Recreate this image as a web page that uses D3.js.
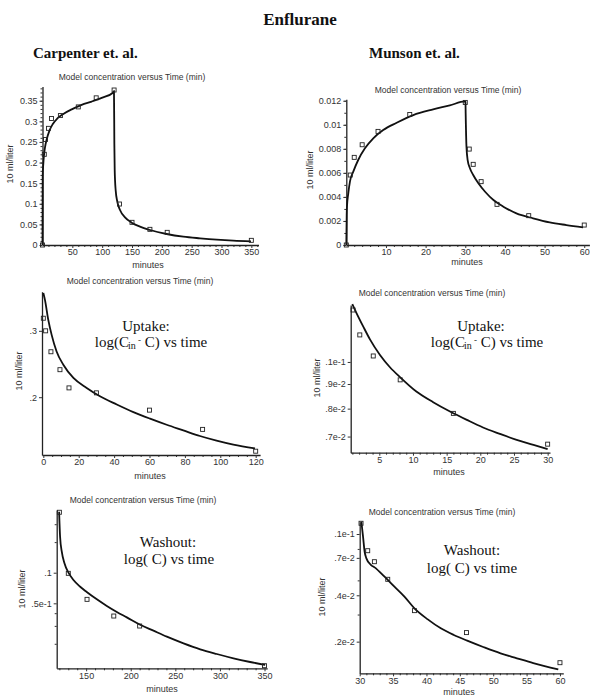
<!DOCTYPE html>
<html><head><meta charset="utf-8">
<script src="https://cdn.jsdelivr.net/npm/d3@7"></script>
<style>
body{margin:0;background:#fff;}
svg{display:block;}
.tick text{font-family:"Liberation Sans",Arial,sans-serif;font-size:9px;fill:#333;}
.lbl{font-family:"Liberation Sans",Arial,sans-serif;font-size:9px;fill:#333;}
.ttl{font-family:"Liberation Sans",Arial,sans-serif;font-size:8.5px;fill:#333;}
.ann{font-family:"Liberation Serif","Times New Roman",serif;font-size:15px;fill:#111;}
</style></head>
<body>
<svg id="chart" width="600" height="698"></svg>
<script>
// ---------- DATA ----------
const mainTitle = "Enflurane";
const groupTitles = ["Carpenter et. al.", "Munson et. al."];
const plotTitle = "Model concentration versus Time (min)";
const yAxisTitle = "10 ml/liter";
const xAxisTitle = "minutes";

// Panel 1: Carpenter, concentration vs time
const p1PointT = [0, 3, 5, 10, 15, 30, 60, 90, 120, 129, 150, 180, 209, 350];
const p1PointC = [0, 0.220, 0.256, 0.283, 0.307, 0.314, 0.335, 0.357, 0.376, 0.0994, 0.055, 0.038, 0.0307, 0.0113];
const p1CurveT = [0, 0.3, 1.4, 2.5, 4.2, 7, 11.5, 17, 24.9, 34.9, 48.9, 65.6, 82.4, 99.2, 118.7, 119.8, 120.4, 121, 122.6, 125.4, 129.9, 138.3, 149.4, 163.4, 180.2, 208.1, 236, 264, 291.9, 319.8, 349.4];
const p1CurveC = [0, 0.1657, 0.198, 0.218, 0.237, 0.256, 0.277, 0.293, 0.307, 0.318, 0.329, 0.340, 0.348, 0.357, 0.370, 0.373, 0.2466, 0.182, 0.133, 0.105, 0.0849, 0.0671, 0.0542, 0.0445, 0.0364, 0.0267, 0.0202, 0.0162, 0.0129, 0.0105, 0.0089];
const p1XTicks = [50, 100, 150, 200, 250, 300, 350];
const p1XLabels = ["50", "100", "150", "200", "250", "300", "350"];
const p1YTicks = [0, 0.05, 0.1, 0.15, 0.2, 0.25, 0.3, 0.35];
const p1YLabels = ["0", "0.05", "0.1", "0.15", "0.2", "0.25", "0.3", "0.35"];

// Panel 2: Munson, concentration vs time
const p2PointT = [0, 1, 2, 4, 8, 16, 30, 31, 32, 34, 38, 46, 60];
const p2PointC = [0, 0.00582, 0.00729, 0.00834, 0.00945, 0.01086, 0.01186, 0.00798, 0.00671, 0.00527, 0.00338, 0.00244, 0.00166];
const p2CurveT = [0, 0.1, 0.17, 0.5, 0.92, 1.76, 3.0, 4.7, 6.8, 9.3, 12.7, 16.9, 21.9, 26.1, 29.9, 30.05, 30.1, 30.3, 30.6, 31.2, 32, 33.3, 35, 37.1, 39.6, 42.9, 47.1, 51.3, 55.5, 59.7];
const p2CurveC = [0, 0.0025, 0.0032, 0.0043, 0.00527, 0.0061, 0.00707, 0.00804, 0.00887, 0.00956, 0.01017, 0.01081, 0.01128, 0.01161, 0.01194, 0.0119, 0.01095, 0.00818, 0.00707, 0.00637, 0.00582, 0.00513, 0.00443, 0.00374, 0.00319, 0.00263, 0.00222, 0.00188, 0.00166, 0.00147];
const p2XTicks = [10, 20, 30, 40, 50, 60];
const p2XLabels = ["10", "20", "30", "40", "50", "60"];
const p2YTicks = [0, 0.002, 0.004, 0.006, 0.008, 0.01, 0.012];
const p2YLabels = ["0", "0.002", "0.004", "0.006", "0.008", "0.01", "0.012"];

// Panel 3: Carpenter uptake, log(Cin - C)
const p3PointT = [0, 1.3, 4.3, 9.4, 14.5, 30, 60, 90, 120];
const p3PointC = [0.324, 0.300, 0.264, 0.2366, 0.2117, 0.2054, 0.1848, 0.1643, 0.1438];
const p3CurveT = [0, 0.94, 2.8, 4.7, 7.5, 11.3, 17, 24.5, 32, 41.5, 50.9, 60.3, 69.7, 79.1, 88.5, 97.9, 107.4, 119.6];
const p3CurveC = [0.378, 0.362, 0.3208, 0.2927, 0.2645, 0.2439, 0.225, 0.2117, 0.2012, 0.1913, 0.1826, 0.1754, 0.169, 0.1633, 0.1578, 0.1534, 0.1497, 0.1462];
const p3XTicks = [0, 20, 40, 60, 80, 100, 120];
const p3XLabels = ["0", "20", "40", "60", "80", "100", "120"];
const p3YTicks = [0.3, 0.2];
const p3YLabels = [".3", ".2"];

// Panel 4: Munson uptake, log(Cin - C)
const p4PointT = [1.1, 2.1, 4.1, 8.1, 16, 30];
const p4PointC = [0.01282, 0.01138, 0.01029, 0.00918, 0.00782, 0.00675];
const p4CurveT = [0.99, 1.63, 2.62, 3.61, 5.1, 6.58, 8.07, 10.5, 13, 15.5, 18, 20.4, 22.9, 25.4, 27.9, 30];
const p4CurveC = [0.01319, 0.01262, 0.01184, 0.01114, 0.01034, 0.00975, 0.0093, 0.00868, 0.00825, 0.00789, 0.00758, 0.00731, 0.00709, 0.00689, 0.00673, 0.00659];
const p4XTicks = [5, 10, 15, 20, 25, 30];
const p4XLabels = ["5", "10", "15", "20", "25", "30"];
const p4YTicks = [0.01, 0.009, 0.008, 0.007];
const p4YLabels = [".1e-1", ".9e-2", ".8e-2", ".7e-2"];

// Panel 5: Carpenter washout, log(C)
const p5PointT = [120, 130, 151, 181, 210, 350];
const p5PointC = [0.393, 0.0986, 0.0547, 0.0375, 0.0299, 0.01218];
const p5CurveT = [119.7, 120.8, 122.7, 125.7, 130.2, 135.8, 143.3, 150.7, 162, 173.2, 184.4, 195.6, 210.6, 225.5, 240.5, 259.2, 277.9, 296.5, 315.2, 333.9, 350.7];
const p5CurveC = [0.398, 0.226, 0.161, 0.1237, 0.1, 0.0848, 0.0728, 0.0646, 0.0547, 0.0471, 0.0411, 0.0364, 0.0308, 0.0269, 0.0235, 0.0202, 0.01765, 0.01587, 0.0144, 0.01324, 0.01237];
const p5XTicks = [150, 200, 250, 300, 350];
const p5XLabels = ["150", "200", "250", "300", "350"];
const p5YTicks = [0.1, 0.05];
const p5YLabels = [".1", ".5e-1"];
const p5YMinor = [0.02, 0.03, 0.04, 0.2, 0.3];

// Panel 6: Munson washout, log(C)
const p6PointT = [30.2, 31.2, 32.2, 34.2, 38.2, 46, 60];
const p6PointC = [0.01174, 0.00779, 0.00661, 0.00508, 0.00318, 0.00229, 0.00146];
const p6CurveT = [30.25, 30.5, 30.74, 31, 31.7, 32.23, 33.72, 35.2, 36.7, 38.2, 40.2, 42.15, 44.1, 46.1, 48.6, 51.1, 53.55, 56, 59.75];
const p6CurveC = [0.01202, 0.00961, 0.00767, 0.00695, 0.00629, 0.00607, 0.00528, 0.00455, 0.00392, 0.00329, 0.00279, 0.00244, 0.00221, 0.00203, 0.00184, 0.00168, 0.00156, 0.00145, 0.00132];
const p6XTicks = [30, 35, 40, 45, 50, 55, 60];
const p6XLabels = ["30", "35", "40", "45", "50", "55", "60"];
const p6YTicks = [0.01, 0.007, 0.004, 0.002];
const p6YLabels = [".1e-1", ".7e-2", ".4e-2", ".2e-2"];
const p6YMinor = [0.008, 0.005, 0.003];

const annUptake = "Uptake:";
const annWashout = "Washout:";

// ---------- DRAW ----------
const svg = d3.select("#chart");

svg.append("text").attr("x", 300).attr("y", 25).attr("text-anchor", "middle")
  .attr("font-family", "'Liberation Serif','Times New Roman',serif").attr("font-weight", "bold")
  .attr("font-size", 17).attr("fill", "#111").text(mainTitle);
svg.append("text").attr("x", 33).attr("y", 58)
  .attr("font-family", "'Liberation Serif','Times New Roman',serif").attr("font-weight", "bold")
  .attr("font-size", 15).attr("fill", "#111").text(groupTitles[0]);
svg.append("text").attr("x", 369).attr("y", 58)
  .attr("font-family", "'Liberation Serif','Times New Roman',serif").attr("font-weight", "bold")
  .attr("font-size", 15).attr("fill", "#111").text(groupTitles[1]);

function range(a, b, s) { const r = []; for (let v = a; v <= b + 1e-9; v += s) r.push(+v.toFixed(6)); return r; }

function panel(c) {
  const g = svg.append("g");
  const x = d3.scaleLinear().domain(c.xd).range(c.xr);
  const y = (c.log ? d3.scaleLog() : d3.scaleLinear()).domain(c.yd).range(c.yr);
  const axisY = c.xAxisAt !== undefined ? y(c.xAxisAt) : c.yr[0];
  const axisX = c.yAxisAt !== undefined ? x(c.yAxisAt) : c.xr[0];

  if (c.xMinor) {
    g.append("g").attr("transform", `translate(0,${axisY})`)
      .call(d3.axisBottom(x).tickValues(c.xMinor.filter(v => !c.xTicks.includes(v))).tickFormat("").tickSize(2).tickSizeOuter(0))
      .call(a => a.select(".domain").remove())
      .call(a => a.selectAll("line").attr("stroke", "#333"));
  }
  if (c.yMinor) {
    g.append("g").attr("transform", `translate(${axisX},0)`)
      .call(d3.axisLeft(y).tickValues(c.yMinor).tickFormat("").tickSize(2).tickSizeOuter(0))
      .call(a => a.select(".domain").remove())
      .call(a => a.selectAll("line").attr("stroke", "#333"));
  }
  g.append("g").attr("transform", `translate(0,${axisY})`)
    .call(d3.axisBottom(x).tickValues(c.xTicks).tickFormat((d, i) => c.xLabels[i]).tickSize(3).tickPadding(1).tickSizeOuter(0))
    .call(a => a.select(".domain").attr("stroke", "#222").attr("stroke-width", 1.3))
    .call(a => a.selectAll("line").attr("stroke", "#333"));
  g.append("g").attr("transform", `translate(${axisX},0)`)
    .call(d3.axisLeft(y).tickValues(c.yTicks).tickFormat((d, i) => c.yLabels[i]).tickSize(3).tickPadding(2).tickSizeOuter(0))
    .call(a => a.select(".domain").attr("stroke", "#222").attr("stroke-width", 1.3))
    .call(a => a.selectAll("line").attr("stroke", "#333"));

  const curvePts = c.curveT.map((t, i) => [t, c.curveC[i]]);
  g.append("path").datum(curvePts)
    .attr("d", d3.line().x(d => x(d[0])).y(d => y(d[1])).curve(d3.curveMonotoneX))
    .attr("fill", "none").attr("stroke", "#111").attr("stroke-width", 1.8);

  const pts = c.pointT.map((t, i) => [t, c.pointC[i]]);
  g.selectAll("rect.pt").data(pts).join("rect").attr("class", "pt")
    .attr("x", d => x(d[0]) - 2).attr("y", d => y(d[1]) - 2)
    .attr("width", 4).attr("height", 4)
    .attr("fill", "none").attr("stroke", "#222").attr("stroke-width", 0.9);

  g.append("text").attr("class", "ttl").attr("x", c.title[0]).attr("y", c.title[1]).attr("text-anchor", "middle").text(plotTitle);
  g.append("text").attr("class", "lbl").attr("x", c.xlab[0]).attr("y", c.xlab[1]).attr("text-anchor", "middle").text(xAxisTitle);
  g.append("text").attr("class", "lbl").attr("text-anchor", "middle")
    .attr("transform", `translate(${c.ylab[0]},${c.ylab[1]}) rotate(-90)`).text(yAxisTitle);

  if (c.ann) {
    g.append("text").attr("class", "ann").attr("x", c.ann.l1[0]).attr("y", c.ann.l1[1]).attr("text-anchor", "middle").text(c.ann.line1);
    const t2 = g.append("text").attr("class", "ann").attr("x", c.ann.l2[0]).attr("y", c.ann.l2[1]).attr("text-anchor", "middle");
    if (c.ann.uptake) {
      t2.append("tspan").text("log(C");
      t2.append("tspan").attr("font-size", 10).attr("dy", 2).attr("dx", -1).text("in");
      t2.append("tspan").attr("font-size", 9).attr("dy", -6).text(" -");
      t2.append("tspan").attr("dy", 4).text(" C) vs time");
    } else {
      t2.append("tspan").text("log( C) vs time");
    }
  }
}

panel({
  xd: [0, 362], xr: [42.5, 258.5], yd: [0, 0.3845], yr: [245, 86.5], xAxisAt: 0, yAxisAt: 0,
  xTicks: p1XTicks, xLabels: p1XLabels, xMinor: range(10, 360, 10),
  yTicks: p1YTicks, yLabels: p1YLabels, yMinor: range(0.01, 0.38, 0.01),
  pointT: p1PointT, pointC: p1PointC, curveT: p1CurveT, curveC: p1CurveC,
  title: [132, 80], xlab: [148, 268], ylab: [13, 164]
});
panel({
  xd: [0, 61.3], xr: [346.3, 589.4], yd: [0, 0.01212], yr: [245, 99.3], xAxisAt: 0, yAxisAt: 0,
  xTicks: p2XTicks, xLabels: p2XLabels, xMinor: range(2, 60, 2),
  yTicks: p2YTicks, yLabels: p2YLabels, yMinor: range(0.001, 0.012, 0.001),
  pointT: p2PointT, pointC: p2PointC, curveT: p2CurveT, curveC: p2CurveC,
  title: [448, 93], xlab: [467, 264.5], ylab: [313, 170]
});
panel({
  xd: [-0.75, 122.5], xr: [42, 260.1], yd: [0.1405, 0.381], yr: [455, 291.7], log: true,
  xTicks: p3XTicks, xLabels: p3XLabels, xMinor: range(0, 120, 5),
  yTicks: p3YTicks, yLabels: p3YLabels,
  pointT: p3PointT, pointC: p3PointC, curveT: p3CurveT, curveC: p3CurveC,
  title: [140, 284], xlab: [150, 479], ylab: [21.5, 371],
  ann: { uptake: true, line1: annUptake, l1: [146, 331], l2: [151, 347] }
});
panel({
  xd: [0.75, 30.35], xr: [350.7, 550], yd: [0.00648, 0.01313], yr: [452.7, 305], log: true,
  xTicks: p4XTicks, xLabels: p4XLabels, xMinor: range(1, 30, 1),
  yTicks: p4YTicks, yLabels: p4YLabels,
  pointT: p4PointT, pointC: p4PointC, curveT: p4CurveT, curveC: p4CurveC,
  title: [432, 295.5], xlab: [449, 475], ylab: [319.5, 378],
  ann: { uptake: true, line1: annUptake, l1: [481, 331], l2: [487, 347] }
});
panel({
  xd: [117, 353], xr: [56.7, 267.2], yd: [0.01148, 0.4137], yr: [668.3, 510], log: true,
  xTicks: p5XTicks, xLabels: p5XLabels, xMinor: range(120, 350, 10),
  yTicks: p5YTicks, yLabels: p5YLabels, yMinor: p5YMinor,
  pointT: p5PointT, pointC: p5PointC, curveT: p5CurveT, curveC: p5CurveC,
  title: [143, 503], xlab: [162, 692], ylab: [24.5, 589],
  ann: { uptake: false, line1: annWashout, l1: [168, 547], l2: [169, 564] }
});
panel({
  xd: [30, 60.5], xr: [359.7, 563.3], yd: [0.001246, 0.01202], yr: [673.3, 521.7], log: true,
  xTicks: p6XTicks, xLabels: p6XLabels, xMinor: range(30, 60, 1),
  yTicks: p6YTicks, yLabels: p6YLabels, yMinor: p6YMinor,
  pointT: p6PointT, pointC: p6PointC, curveT: p6CurveT, curveC: p6CurveC,
  title: [442, 514.5], xlab: [459, 695], ylab: [324.5, 597],
  ann: { uptake: false, line1: annWashout, l1: [472, 555], l2: [472, 573] }
});
</script>
</body></html>
